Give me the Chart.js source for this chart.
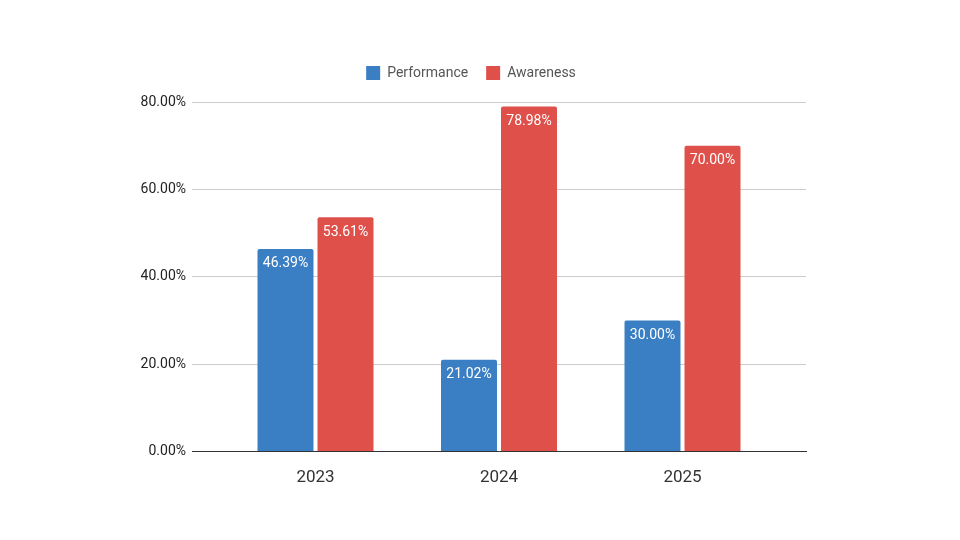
<!DOCTYPE html>
<html>
<head>
<meta charset="utf-8">
<script src="https://cdn.jsdelivr.net/npm/chart.js@4"></script>
<style>
  html, body { margin: 0; padding: 0; background: #fff; }
  #wrap { width: 960px; height: 540px; }
</style>
</head>
<body>
<div id="wrap"><canvas id="chart"></canvas></div>
<script>
const YEARS = [ '2023', '2024', '2025' ];
const PERFORMANCE = [ 46.39, 21.02, 30.00 ];
const AWARENESS = [ 53.61, 78.98, 70.00 ];

let points = function(values) {
  return values.map(function(v, i) { return { x: i, y: v }; });
};

// white percentage labels just inside the top of each bar
let barLabels = {
  id: 'barLabels',
  afterDatasetsDraw: function(chart) {
    let ctx = chart.ctx;
    ctx.save();
    ctx.font = '14px Roboto, Arial, sans-serif';
    ctx.fillStyle = '#ffffff';
    ctx.textAlign = 'center';
    ctx.textBaseline = 'middle';
    chart.data.datasets.forEach(function(ds, di) {
      chart.getDatasetMeta(di).data.forEach(function(bar, i) {
        ctx.fillText(ds.data[i].y.toFixed(2) + '%', bar.x, bar.y + 15);
      });
    });
    ctx.restore();
  }
};

// extra room below the legend
let legendGap = {
  id: 'legendGap',
  beforeInit: function(chart) {
    let fit = chart.legend.fit;
    chart.legend.fit = function() {
      fit.bind(chart.legend)();
      this.height += 12;
    };
  }
};

new Chart(document.getElementById('chart'), {
  type: 'bar',
  data: {
    datasets: [
      { label: 'Performance', data: points(PERFORMANCE), backgroundColor: '#3a7fc3', borderRadius: 2, borderSkipped: 'bottom' },
      { label: 'Awareness', data: points(AWARENESS), backgroundColor: '#e0504b', borderRadius: 2, borderSkipped: 'bottom' },
    ],
  },
  options: {
    responsive: true,
    maintainAspectRatio: false,
    animation: false,
    categoryPercentage: 0.654,
    barPercentage: 0.933,
    layout: { padding: { left: 136, right: 154, top: 48, bottom: 44 } },
    plugins: {
      tooltip: { enabled: false },
      legend: {
        position: 'top',
        labels: {
          boxWidth: 14, boxHeight: 14, padding: 18,
          color: '#555', font: { family: 'Roboto, Arial, sans-serif', size: 14 },
        },
      },
    },
    scales: {
      x: {
        type: 'linear',
        offset: false,
        min: -0.673, max: 2.673,
        afterBuildTicks: function(scale) { scale.ticks = YEARS.map(function(y, i) { return { value: i }; }); },
        ticks: {
          autoSkip: false, padding: 8,
          color: '#333', font: { family: 'Roboto, Arial, sans-serif', size: 17 },
          callback: function(v) { return YEARS[v]; },
        },
        grid: { display: false },
        border: { display: true, color: '#333', width: 1 },
      },
      y: {
        min: 0, max: 80,
        afterFit: function(scale) { scale.width = 56; },
        ticks: {
          stepSize: 20, padding: 6,
          color: '#222', font: { family: 'Roboto, Arial, sans-serif', size: 14 },
          callback: function(v) { return v.toFixed(2) + '%'; },
        },
        grid: { color: '#cccccc', drawTicks: false },
        border: { display: false },
      },
    },
  },
  plugins: [ barLabels, legendGap ],
});
</script>
</body>
</html>
